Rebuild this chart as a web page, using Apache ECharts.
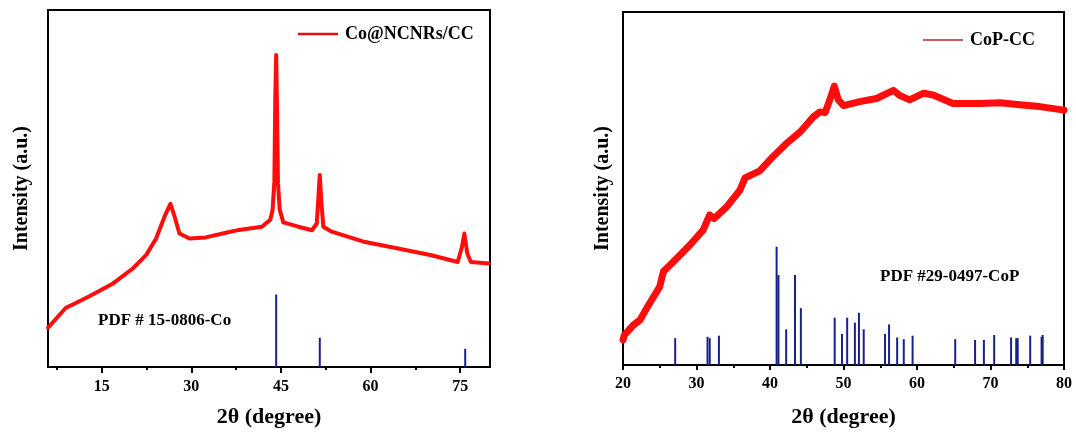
<!DOCTYPE html>
<html>
<head>
<meta charset="utf-8">
<script src="https://cdn.jsdelivr.net/npm/echarts@6/dist/echarts.min.js"></script>
<style>
html,body{margin:0;padding:0;background:#fff;}
#chart{width:1076px;height:434px;}
</style>
</head>
<body>
<div id="chart"></div>
<script>
// ---- Left panel: Co@NCNRs/CC ----
const leftTheta = [6, 7.5, 9.0, 10.5, 13, 16.9, 20.2, 22.45, 24.1, 25.5, 26.5, 27.2, 28, 29.7, 32.4, 35.8, 38, 41.8, 43.2, 43.6, 43.9, 44.05, 44.2, 44.35, 44.5, 44.8, 45.4, 47.9, 50.2, 51, 51.25, 51.5, 51.75, 52.1, 53.5, 59.1, 64.6, 70.2, 74.6, 75.3, 75.7, 76.2, 76.8, 79.8];
const leftIntensity = [11.0, 13.8, 16.6, 17.8, 19.9, 23.4, 27.6, 31.4, 36.0, 42.1, 45.7, 42.1, 37.4, 36.0, 36.3, 37.6, 38.4, 39.3, 41.2, 44.0, 52.0, 75.0, 87.4, 72.0, 51.5, 44.0, 40.5, 39.3, 38.3, 40.2, 47.0, 53.8, 46.5, 39.3, 37.9, 35.0, 33.2, 31.3, 29.4, 33.6, 37.4, 31.8, 29.4, 29.0];
const coStickTheta = [44.2, 51.5, 75.85];
const coStickIntensity = [20.3, 8.2, 5.1];
const leftTickLabels = [15, 30, 45, 60, 75];
const leftMinorTicks = [7.5, 22.5, 37.5, 52.5, 67.5];

// ---- Right panel: CoP-CC ----
const rightTheta = [20, 20.2, 21.4, 22.3, 23.2, 25, 25.5, 27.3, 29.1, 30.9, 31.8, 32.4, 34.1, 35.9, 36.6, 38.6, 40.4, 42.2, 44.1, 45.9, 46.8, 47.5, 48.2, 48.75, 49.3, 50, 52.2, 54.5, 56.8, 57.7, 59, 60.9, 62.2, 64.9, 68.6, 71.3, 74, 76.7, 80];
const rightIntensity = [7.1, 8.5, 11.3, 12.7, 16.0, 22.2, 26.5, 30.2, 34.0, 38.2, 42.5, 41.5, 44.8, 49.5, 53.0, 55.0, 59.0, 62.7, 66.0, 70.3, 71.7, 71.5, 75.5, 79.0, 75.1, 73.5, 74.6, 75.5, 77.8, 76.3, 75.1, 77.0, 76.5, 74.1, 74.1, 74.3, 73.7, 73.2, 72.2];
const copStickTheta = [27.1, 31.5, 31.8, 33.05, 40.9, 41.15, 42.2, 43.4, 44.2, 48.8, 49.8, 50.5, 51.55, 52.1, 52.75, 55.65, 56.2, 57.3, 58.2, 59.4, 65.2, 67.9, 69.1, 70.5, 72.8, 73.5, 73.7, 75.4, 76.95, 77.1];
const copStickIntensity = [7.6, 8.0, 7.6, 8.3, 33.5, 25.5, 10.1, 25.5, 16.1, 13.4, 8.8, 13.4, 12.0, 14.8, 10.1, 8.8, 11.5, 7.8, 7.3, 8.3, 7.3, 7.1, 7.1, 8.5, 7.8, 7.6, 7.6, 8.3, 8.0, 8.5];

const FONT = "'Liberation Serif', 'Times New Roman', serif";
const zip = (a, b) => a.map((v, i) => [v, b[i]]);

const chart = echarts.init(document.getElementById('chart'), null, {renderer: 'canvas'});

const axisLineStyle = {show: true, onZero: false, lineStyle: {color: '#000', width: 2}};
const labelStyle = {color: '#000', fontFamily: FONT, fontWeight: 'bold', fontSize: 16};
const xNameStyle = {color: '#000', fontFamily: FONT, fontWeight: 'bold', fontSize: 22};
const yNameStyle = {color: '#000', fontFamily: FONT, fontWeight: 'bold', fontSize: 20};

const option = {
  animation: false,
  backgroundColor: '#fff',
  grid: [
    {left: 48, top: 10, width: 442, height: 357, show: true, borderColor: '#000', borderWidth: 2, containLabel: false},
    {left: 623, top: 12, width: 441, height: 353, show: true, borderColor: '#000', borderWidth: 2, containLabel: false}
  ],
  xAxis: [
    {
      type: 'value', gridIndex: 0, min: 6, max: 80,
      axisLine: axisLineStyle,
      axisTick: {show: true, length: 6, lineStyle: {color: '#000', width: 2}, customValues: leftTickLabels},
      axisLabel: Object.assign({show: true, customValues: leftTickLabels, margin: 12}, labelStyle),
      splitLine: {show: false},
      name: '2θ (degree)', nameLocation: 'middle', nameGap: 39, nameTextStyle: xNameStyle
    },
    {
      type: 'value', gridIndex: 0, min: 6, max: 80, position: 'bottom',
      axisLine: {show: false},
      axisTick: {show: true, length: 3, lineStyle: {color: '#000', width: 2}, customValues: leftMinorTicks},
      axisLabel: {show: false},
      splitLine: {show: false}
    },
    {
      type: 'value', gridIndex: 1, min: 20, max: 80, interval: 10,
      axisLine: axisLineStyle,
      axisTick: {show: true, length: 5, lineStyle: {color: '#000', width: 2}},
      minorTick: {show: true, splitNumber: 2, length: 3, lineStyle: {color: '#000', width: 2}},
      axisLabel: Object.assign({show: true, margin: 11, showMinLabel: true, showMaxLabel: true}, labelStyle),
      splitLine: {show: false},
      name: '2θ (degree)', nameLocation: 'middle', nameGap: 41, nameTextStyle: xNameStyle
    }
  ],
  yAxis: [
    {
      type: 'value', gridIndex: 0, min: 0, max: 100,
      axisLine: axisLineStyle, axisTick: {show: false}, axisLabel: {show: false}, splitLine: {show: false},
      name: 'Intensity (a.u.)', nameLocation: 'middle', nameGap: 16, nameRotate: 90, nameTextStyle: yNameStyle
    },
    {
      type: 'value', gridIndex: 1, min: 0, max: 100,
      axisLine: axisLineStyle, axisTick: {show: false}, axisLabel: {show: false}, splitLine: {show: false},
      name: 'Intensity (a.u.)', nameLocation: 'middle', nameGap: 10, nameRotate: 90, nameTextStyle: yNameStyle
    }
  ],
  legend: [
    {
      data: ['Co@NCNRs/CC'], left: 298, top: 25, padding: 0,
      icon: 'rect', itemWidth: 40, itemHeight: 2.5, itemGap: 0,
      itemStyle: {color: '#e81010'},
      textStyle: {color: '#000', fontFamily: FONT, fontWeight: 'bold', fontSize: 18, padding: [0, 0, 0, 2]}
    },
    {
      data: ['CoP-CC'], left: 923, top: 31, padding: 0,
      icon: 'rect', itemWidth: 40, itemHeight: 1.5, itemGap: 0,
      itemStyle: {color: '#b02828'},
      textStyle: {color: '#000', fontFamily: FONT, fontWeight: 'bold', fontSize: 18, padding: [0, 0, 0, 2]}
    }
  ],
  graphic: [
    {type: 'text', left: 98, top: 312, style: {text: 'PDF # 15-0806-Co', fill: '#000', font: 'bold 17px ' + FONT}},
    {type: 'text', left: 880, top: 268, style: {text: 'PDF #29-0497-CoP', fill: '#000', font: 'bold 17px ' + FONT}}
  ],
  series: [
    {
      name: 'PDF Co', type: 'bar', xAxisIndex: 0, yAxisIndex: 0,
      data: zip(coStickTheta, coStickIntensity), barWidth: 2,
      itemStyle: {color: '#18218a'}, silent: true
    },
    {
      name: 'Co@NCNRs/CC', type: 'line', xAxisIndex: 0, yAxisIndex: 0,
      data: zip(leftTheta, leftIntensity), showSymbol: false, symbol: 'none',
      lineStyle: {color: '#ff0d0d', width: 4, join: 'round', cap: 'round'},
      itemStyle: {color: '#ff0d0d'}
    },
    {
      name: 'PDF CoP', type: 'bar', xAxisIndex: 2, yAxisIndex: 1,
      data: zip(copStickTheta, copStickIntensity), barWidth: 2,
      itemStyle: {color: '#18218a'}, silent: true
    },
    {
      name: 'CoP-CC', type: 'line', xAxisIndex: 2, yAxisIndex: 1,
      data: zip(rightTheta, rightIntensity), showSymbol: false, symbol: 'none',
      lineStyle: {color: '#ff0d0d', width: 7, join: 'round', cap: 'round'},
      itemStyle: {color: '#ff0d0d'}
    }
  ]
};
chart.setOption(option);
</script>
</body>
</html>
